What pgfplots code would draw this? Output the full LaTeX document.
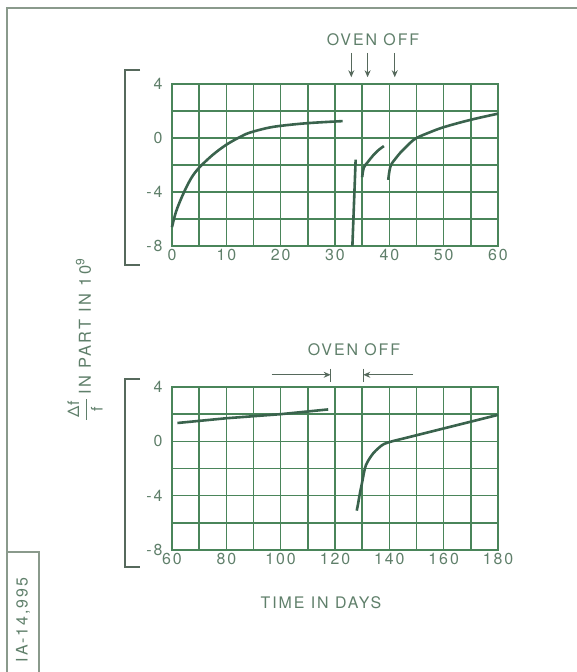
\documentclass[border=0pt]{standalone}
\usepackage{fontspec}
\usepackage{pgfplots}
\pgfplotsset{compat=1.18}
\usetikzlibrary{arrows.meta}
\setmainfont{TeX Gyre Heros}
\newfontfamily\lett[LetterSpace=12]{TeX Gyre Heros}
\newfontfamily\lettw[LetterSpace=15]{TeX Gyre Heros}
\definecolor{gridc}{HTML}{4A855A}
\definecolor{curvec}{HTML}{3A634D}
\definecolor{textc}{HTML}{5F7F6A}
\definecolor{framec}{HTML}{8A9A8C}
\definecolor{brackc}{HTML}{56695C}
\pgfplotsset{
  panel/.style={
    scale only axis, width=326bp, anchor=south west,
    ymin=-8, ymax=4,
    ytick={-8,-4,0,4}, yticklabels={-8,-4,0,4},
    minor ytick={-6,-2,2},
    grid=both,
    grid style={gridc, line width=1.6bp},
    major grid style={gridc, line width=1.6bp},
    minor grid style={gridc, line width=1.6bp},
    axis line style={gridc, line width=1.6bp},
    major tick length=0pt, minor tick length=0pt,
    tick style={draw=none},
    ticklabel style={font=\lett\fontsize{16}{16}\selectfont, text=textc},
    yticklabel style={xshift=-6bp},
    clip=false,
  },
  curve/.style={curvec, line width=2.6bp, smooth, tension=0.55, no marks},
}
\begin{document}
\begin{tikzpicture}
\path[use as bounding box] (0,0) rectangle (577bp,672bp);
% frame
\draw[framec, line width=1.3bp] (577bp,664bp) -- (7bp,664bp) -- (7bp,0bp);
\draw[framec, line width=1.3bp] (7bp,120bp) -- (39bp,120bp) -- (39bp,0bp);
\node[rotate=90, text=textc, font=\lett\fontsize{16}{16}\selectfont] at (23bp,52bp) {IA-14,995};
% brackets
\draw[brackc, line width=1.6bp] (140bp,602bp) -- (125bp,602bp) -- (125bp,407bp) -- (140bp,407bp);
\draw[brackc, line width=1.6bp] (140bp,293bp) -- (125bp,293bp) -- (125bp,105bp) -- (140bp,105bp);
% y label
\node[rotate=90, text=textc, font=\lettw\fontsize{16.5}{16.5}\selectfont, inner sep=0pt] at (85bp,332bp)
  {$\displaystyle\frac{\mbox{\lett\fontsize{16}{16}\selectfont\hspace{2bp}Δ\hspace{1bp}f\hspace{2bp}}}{\mbox{\lett\fontsize{16}{16}\selectfont f}}$\hspace{3bp}IN PART IN 10\raisebox{0.75ex}{\lett\fontsize{12}{12}\selectfont 9}};
% x label
\node[text=textc, font=\lett\fontsize{16}{16}\selectfont] at (321bp,69bp) {TIME IN DAYS};

% top panel
\begin{axis}[panel, at={(172bp,426bp)}, height=162bp,
  xmin=0, xmax=60,
  xtick={0,10,20,30,40,50,60}, xticklabels={0,10,20,30,40,50,60},
  minor xtick={5,15,25,35,45,55},
]
\addplot[curve] coordinates {(0,-6.6) (0.75,-5.45) (2,-4.2) (3.5,-3.0) (5,-2.2) (7.5,-1.25) (10,-0.5) (12.4,0.05) (14.2,0.38) (17.3,0.72) (20,0.9) (25,1.1) (31.4,1.25)};
\addplot[curvec, line width=2.6bp, no marks] coordinates {(33.2,-8) (33.8,-1.6)};
\addplot[curve] coordinates {(35,-2.9) (35.3,-2.2) (36,-1.8) (37,-1.3) (38,-0.9) (39,-0.6)};
\addplot[curve] coordinates {(39.8,-3.1) (40,-2.5) (40.3,-2.0) (41,-1.6) (42,-1.1) (43,-0.7) (44,-0.3) (45,0) (47,0.35) (50,0.8) (55,1.35) (60,1.8)};
\draw[brackc, line width=1bp, -{Stealth[length=7bp,width=6bp]}] (axis cs:33,6.3) -- (axis cs:33,4.5);
\draw[brackc, line width=1bp, -{Stealth[length=7bp,width=6bp]}] (axis cs:36,6.3) -- (axis cs:36,4.5);
\draw[brackc, line width=1bp, -{Stealth[length=7bp,width=6bp]}] (axis cs:41,6.3) -- (axis cs:41,4.5);
\node[text=textc, font=\lett\fontsize{16}{16}\selectfont] at (axis cs:37,7.3) {OVEN OFF};
\end{axis}

% bottom panel
\begin{axis}[panel, at={(172bp,122bp)}, height=163bp,
  xmin=60, xmax=180,
  xtick={60,80,100,120,140,160,180}, xticklabels={60,80,100,120,140,160,180},
  minor xtick={70,90,110,130,150,170},
]
\addplot[curvec, line width=2.6bp, no marks] coordinates {(62,1.35) (80,1.7) (100,2.0) (117.5,2.35)};
\addplot[curve] coordinates {(128,-5.1) (128.5,-4.6) (129,-4.0) (130,-3.0) (131,-2.0) (132,-1.5) (134,-0.9) (136,-0.5) (138,-0.2) (141,0) (145,0.2) (150,0.45) (160,0.95) (170,1.45) (180,1.95)};
\draw[brackc, line width=1bp, -{Stealth[length=7bp,width=6bp]}] (axis cs:96.7,4.9) -- (axis cs:118.4,4.9);
\draw[brackc, line width=1bp] (axis cs:118.4,5.35) -- (axis cs:118.4,4.4);
\draw[brackc, line width=1bp, -{Stealth[length=7bp,width=6bp]}] (axis cs:148.8,4.9) -- (axis cs:130.4,4.9);
\draw[brackc, line width=1bp] (axis cs:130.4,5.35) -- (axis cs:130.4,4.4);
\node[text=textc, font=\lett\fontsize{16}{16}\selectfont] at (axis cs:127,6.75) {OVEN OFF};
\end{axis}
\end{tikzpicture}
\end{document}
